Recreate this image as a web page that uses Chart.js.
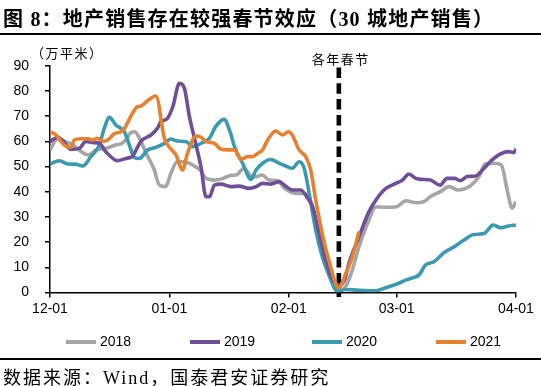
<!DOCTYPE html>
<html lang="zh">
<head>
  <meta charset="UTF-8" />
  <title>地产销售存在较强春节效应</title>
  <script src="https://cdn.jsdelivr.net/npm/chart.js@4.4.0/dist/chart.umd.min.js"></script>
  <style>
    html, body { margin: 0; padding: 0; background: #fff; }
    .page { position: relative; width: 541px; height: 386px; overflow: hidden; }
    #chart { position: absolute; left: 0; top: 0; }
    .title { position: absolute; left: 3px; top: 3px; font: bold 20px "Liberation Serif", "Noto Sans CJK SC"; letter-spacing: 1.2px; color: #000; white-space: nowrap; }
    .rule { position: absolute; left: 0; width: 541px; height: 1.5px; background: #000; }
    .unit { position: absolute; left: 31px; top: 43px; font: 13px "Noto Sans CJK SC"; letter-spacing: 1.5px; color: #000; }
    .source { position: absolute; left: 3px; top: 363px; font: 18px "Liberation Serif", "Noto Sans CJK SC"; letter-spacing: 2px; color: #000; white-space: nowrap; }
    .legend span.ln { position: absolute; width: 30px; height: 4px; top: 340px; }
    .legend span.tx { position: absolute; top: 333px; font: 14px "Liberation Sans", Arial; color: #000; }
  </style>
</head>
<body>
<div class="page">
  <canvas id="chart" width="541" height="386"></canvas>
  <div class="title">图 8：地产销售存在较强春节效应（30 城地产销售）</div>
  <div class="rule" style="top:33px"></div>
  <div class="unit">（万平米）</div>
  <div class="legend" id="legend"></div>
  <div class="rule" style="top:358px"></div>
  <div class="source">数据来源：Wind，国泰君安证券研究</div>
</div>

<script>
  // x = days since 12-01
  const tickDays = [0, 31, 62, 90, 121];
  const tickLabels = ['12-01', '01-01', '02-01', '03-01', '04-01'];
  const springDay = 75;
  const springLabel = '各年春节';

  const years = ['2018', '2019', '2020', '2021'];
  const colors = ['#A6A6A6', '#6F4F97', '#3A9AB0', '#E5812F'];

  const days2018 = [0, 2, 4, 6, 8, 10, 12, 14.5, 17, 19, 21, 22, 23, 25, 27, 28.4, 30, 31.4, 33, 35, 37, 39, 40.5, 42.7, 45, 47, 48.3, 50.4, 52, 53.5, 55, 57, 59, 61, 64, 66, 67.7, 69.5, 71, 72.5, 74, 75.5, 77, 78.5, 80.2, 82.8, 84.6, 87, 90, 92.4, 95, 97, 99, 101.4, 103.6, 106, 109, 111.4, 113, 115.3, 117.2, 118.7, 120, 121];
  const vals2018 = [56.6, 61, 59.9, 58.5, 56, 54.6, 56.6, 57.2, 58.5, 59.5, 63.4, 63.8, 61.9, 55.2, 49, 42.6, 42, 47.3, 51.9, 51.9, 50.6, 48.6, 45.3, 44.6, 45.3, 46.5, 46.6, 49.3, 46.5, 46, 46.6, 44.6, 44.4, 41.3, 39.3, 39.3, 36, 25, 15, 7, 2, 0.8, 3, 9, 18, 28.7, 34, 33.8, 34, 36.4, 35.6, 36, 38.3, 40, 42, 40.7, 42.2, 46, 51, 51.3, 50.6, 40.7, 33.5, 36];

  const days2019 = [0, 2, 3.3, 5.4, 7.6, 9.3, 11, 12.8, 14.5, 17.5, 19.7, 21.4, 22.5, 23.6, 26.2, 27.9, 28.8, 30.5, 31.9, 33.6, 34.9, 36.2, 37.5, 39.2, 40.5, 41.4, 42.7, 44.4, 47, 49.1, 51.7, 53.5, 55.2, 57.3, 59.5, 61.2, 62.9, 65.1, 66.9, 68.2, 69.9, 71.6, 73.5, 75, 76.5, 77.6, 80.2, 82.8, 84.9, 87.2, 89.8, 91.5, 93.2, 95, 96.2, 98.8, 101.3, 103.1, 105, 106.6, 108.3, 110.5, 112.7, 114.8, 117, 119.1, 120.4, 121];
  const vals2019 = [59.9, 61.6, 60.3, 56.8, 57.2, 59.9, 59.5, 59.2, 55.9, 52.3, 53.2, 54, 57, 60, 62.5, 65.2, 67.8, 69.1, 73.8, 83, 81, 69.8, 61.2, 49.9, 38, 38, 42.6, 43, 42, 42.2, 41.3, 42, 43.3, 43, 44, 42.2, 40.7, 40.7, 37.4, 34, 23.4, 12.8, 5, 3, 5, 11.5, 22, 32, 37.3, 41.3, 43.3, 44.6, 47, 45.3, 44.9, 44.6, 42.6, 45.3, 45.3, 44.4, 46, 46.2, 49.3, 52.6, 55, 55.9, 55.5, 57];

  const days2020 = [0, 2.4, 4.6, 6.7, 8.5, 10.6, 12.8, 14.1, 15.4, 17.1, 19.3, 20.6, 21.9, 23.2, 25.4, 27.5, 29.7, 31.4, 33.1, 35.3, 37, 39.2, 41.4, 43, 45.2, 46.7, 48, 50, 52.2, 53.5, 55.2, 57.3, 59.5, 61.2, 62.9, 64.7, 66, 67.3, 69, 70.7, 72.3, 74.6, 76.8, 80.2, 84.6, 87.2, 89.8, 92.4, 94.5, 95.8, 97.5, 99.7, 102.3, 104.9, 107.5, 110, 112.7, 115.1, 117, 119.1, 121];
  const vals2020 = [51, 52.3, 51, 50.9, 50.2, 53.9, 58.5, 65.2, 69.5, 66.5, 63.8, 58.5, 53.6, 53.2, 56.6, 57.6, 59.2, 60.9, 60.1, 59.9, 57.9, 59.2, 61.2, 65.8, 68.7, 64, 57.5, 51.3, 44.9, 48.6, 51.3, 52.8, 51.3, 50.2, 49.3, 51.9, 49.3, 39.3, 24.8, 14.2, 7.5, 0.5, 1.2, 0.9, 0.7, 1.9, 3.2, 4.9, 6, 6.9, 10.9, 12.2, 15.8, 18.1, 20.8, 23, 23.4, 26.8, 25.7, 26.4, 26.8];

  const days2021 = [0, 1.6, 3.7, 5.4, 6.3, 8, 10, 11, 12.4, 13.7, 15, 16.7, 18.4, 19.3, 21, 22.8, 23.6, 25.4, 27.5, 29.7, 31, 32.7, 34.4, 35.7, 37.9, 39.2, 40.5, 42.7, 44.4, 46.1, 47.8, 49.6, 51.3, 52.6, 53.9, 55.2, 56.5, 58.6, 60.4, 61.9, 62.9, 64.7, 66.4, 67.7, 69, 70.7, 72.4, 75, 76.8, 78.5, 80.2];
  const vals2021 = [63.8, 62.5, 58.5, 57.6, 60.5, 61, 61, 60.5, 61.2, 60, 60.5, 63, 63.8, 65, 70, 73.8, 74, 76.2, 78, 61.2, 57.6, 54.6, 48.6, 55.2, 62.1, 61.6, 59.9, 59.2, 56.8, 56.6, 56.6, 52.8, 53.9, 53.9, 55.2, 56.6, 60.5, 64.1, 62.5, 63.8, 62.5, 56.6, 53.9, 48.6, 36.7, 23.4, 12.8, 1.9, 7.5, 14.2, 24.1];

  const allDays = [days2018, days2019, days2020, days2021];
  const allVals = [vals2018, vals2019, vals2020, vals2021];
  const drawOrder = [4, 2, 3, 1];

  const datasets = years.map(function (y, i) {
    return {
      label: y,
      data: allDays[i].map(function (d, j) { return { x: d, y: allVals[i][j] }; }),
      borderColor: colors[i],
      backgroundColor: colors[i],
      borderWidth: 3.6,
      pointRadius: 0,
      fill: false,
      cubicInterpolationMode: 'monotone',
      order: drawOrder[i]
    };
  });

  // html legend
  const legendX = [66, 190, 312, 436];
  let lg = '';
  years.forEach(function (y, i) {
    lg += '<span class="ln" style="left:' + legendX[i] + 'px;background:' + colors[i] + '"></span>';
    lg += '<span class="tx" style="left:' + (legendX[i] + 34) + 'px">' + y + '</span>';
  });
  document.getElementById('legend').innerHTML = lg;

  const springPlugin = {
    id: 'spring',
    beforeDatasetsDraw: function (chart) {
      const ctx = chart.ctx;
      const x = chart.scales.x.getPixelForValue(springDay);
      ctx.save();
      ctx.strokeStyle = '#000';
      ctx.lineWidth = 4.6;
      ctx.setLineDash([10.5, 5.3]);
      ctx.beginPath();
      ctx.moveTo(x, 67.5);
      ctx.lineTo(x, 297);
      ctx.stroke();
      ctx.restore();
    },
    afterDraw: function (chart) {
      const ctx = chart.ctx;
      const x = chart.scales.x.getPixelForValue(springDay);
      ctx.save();
      ctx.fillStyle = '#000';
      ctx.font = '13px "Noto Sans CJK SC"';
      ctx.textAlign = 'center';
      ctx.textBaseline = 'middle';
      ctx.letterSpacing = '1.5px';
      ctx.fillText(springLabel, x + 2, 59);
      ctx.restore();
    }
  };

  const tickFont = { family: '"Liberation Sans", Arial', size: 14 };

  new Chart(document.getElementById('chart'), {
    type: 'line',
    data: { datasets: datasets },
    plugins: [springPlugin],
    options: {
      responsive: false,
      animation: false,
      layout: { padding: { top: 65.7, left: 0, right: 25, bottom: 63.5 } },
      plugins: { legend: { display: false }, tooltip: { enabled: false } },
      scales: {
        x: {
          type: 'linear',
          min: 0,
          max: 121,
          afterBuildTicks: function (axis) {
            axis.ticks = tickDays.map(function (d) { return { value: d }; });
          },
          afterFit: function (axis) { axis.height = 30; },
          ticks: {
            autoSkip: false,
            maxRotation: 0,
            padding: 3,
            color: '#000',
            font: tickFont,
            callback: function (v) { return tickLabels[tickDays.indexOf(v)]; }
          },
          grid: { drawOnChartArea: false, drawTicks: true, tickLength: 5, color: '#000', lineWidth: 1.5 },
          border: { color: '#000', width: 1.5 }
        },
        y: {
          min: 0,
          max: 90,
          afterFit: function (axis) { axis.width = 50; },
          ticks: { stepSize: 10, padding: 16, color: '#000', font: tickFont },
          grid: { drawOnChartArea: false, drawTicks: true, tickLength: 5, color: '#000', lineWidth: 1.5 },
          border: { color: '#000', width: 1.5 }
        }
      }
    }
  });
</script>
</body>
</html>
